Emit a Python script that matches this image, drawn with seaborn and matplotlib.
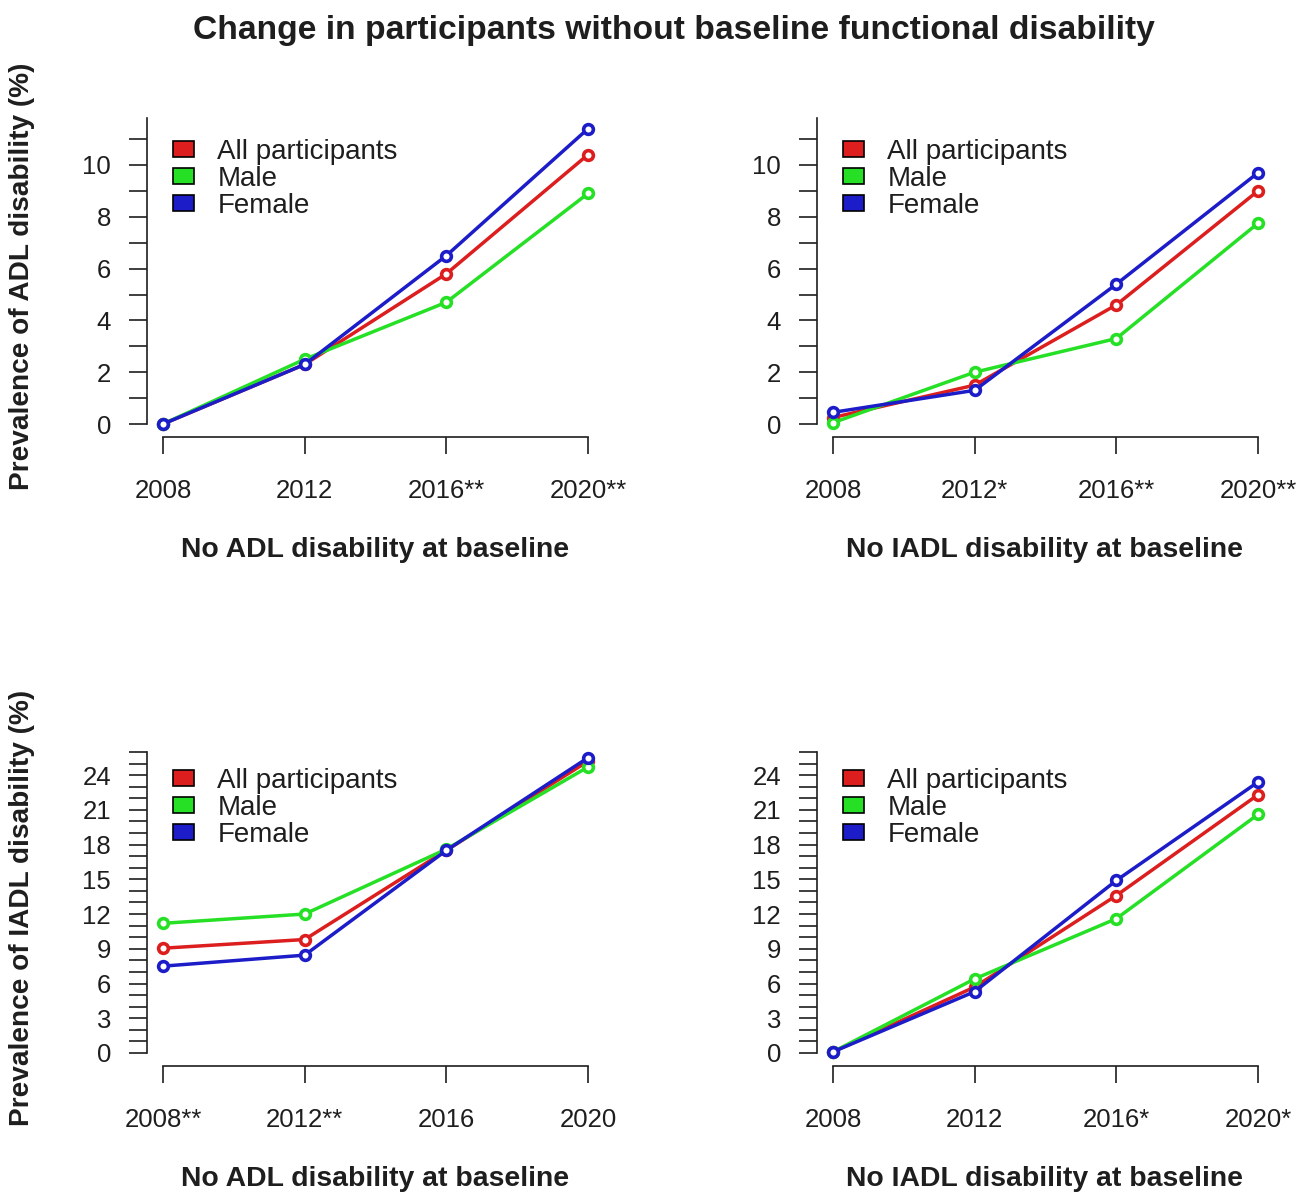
import matplotlib
matplotlib.use("Agg")
import matplotlib.pyplot as plt
from matplotlib.patches import Patch
from matplotlib.ticker import FixedLocator, FixedFormatter
import pandas as pd
import seaborn as sns

# ---- data -------------------------------------------------------------
groups = ["All participants", "Male", "Female"]
colors = ["#dc1e1e", "#26e026", "#1c1cc8"]
waves = [0, 1, 2, 3]

# ADL disability, no ADL disability at baseline
adl_noadl_all = [0.0, 2.3, 5.8, 10.4]
adl_noadl_male = [0.0, 2.5, 4.7, 8.9]
adl_noadl_female = [0.0, 2.3, 6.5, 11.4]
adl_noadl_ticks = ["2008", "2012", "2016**", "2020**"]

# ADL disability, no IADL disability at baseline
adl_noiadl_all = [0.25, 1.5, 4.6, 9.0]
adl_noiadl_male = [0.05, 2.0, 3.3, 7.75]
adl_noiadl_female = [0.45, 1.3, 5.4, 9.7]
adl_noiadl_ticks = ["2008", "2012*", "2016**", "2020**"]

# IADL disability, no ADL disability at baseline
iadl_noadl_all = [9.05, 9.8, 17.5, 25.2]
iadl_noadl_male = [11.2, 12.0, 17.6, 24.7]
iadl_noadl_female = [7.5, 8.45, 17.5, 25.5]
iadl_noadl_ticks = ["2008**", "2012**", "2016", "2020"]

# IADL disability, no IADL disability at baseline
iadl_noiadl_all = [0.1, 5.7, 13.6, 22.3]
iadl_noiadl_male = [0.1, 6.4, 11.6, 20.6]
iadl_noiadl_female = [0.1, 5.3, 14.9, 23.4]
iadl_noiadl_ticks = ["2008", "2012", "2016*", "2020*"]

title = "Change in participants without baseline functional disability"
xlabel_adl = "No ADL disability at baseline"
xlabel_iadl = "No IADL disability at baseline"
ylabel_adl = "Prevalence of ADL disability (%)"
ylabel_iadl = "Prevalence of IADL disability (%)"

# ---- style ------------------------------------------------------------
sns.set_style("white")
plt.rcParams["font.family"] = ["Liberation Sans", "DejaVu Sans"]
TXT = "#1e1e1e"

W, H = 1299, 1193
fig = plt.figure(figsize=(W / 100, H / 100), dpi=100)
fig.patch.set_facecolor("white")


def long_frame(all_v, male_v, female_v):
    rows = []
    for g, vals in zip(groups, [all_v, male_v, female_v]):
        for w, v in zip(waves, vals):
            rows.append({"wave": w, "value": v, "group": g})
    return pd.DataFrame(rows)


def panel(spine_x, axis_y, series, ticklabels, xlabel, ylabel,
          ppu, top_val, tick_max, label_step):
    # geometry in pixels
    x0, x3 = spine_x + 16, spine_x + 441
    y0 = axis_y - 13
    right = spine_x + 470
    top_px = y0 - top_val * ppu - 2
    ax = fig.add_axes([spine_x / W, 1 - axis_y / H,
                       (right - spine_x) / W, (axis_y - top_px) / H])
    ppx = (x3 - x0) / 3
    ax.set_xlim(-(x0 - spine_x) / ppx, 3 + (right - x3) / ppx)
    ax.set_ylim(-(axis_y - y0) / ppu, (y0 - top_px) / ppu)

    df = long_frame(*series)
    sns.lineplot(data=df, x="wave", y="value", hue="group",
                 hue_order=groups, palette=dict(zip(groups, colors)),
                 marker="o", markersize=7, markeredgewidth=2.6,
                 markerfacecolor="white", linewidth=2.5,
                 legend=False, ax=ax, clip_on=False)
    for line in ax.lines:
        line.set_markeredgecolor(line.get_color())

    for side in ["top", "right"]:
        ax.spines[side].set_visible(False)
    for side in ["left", "bottom"]:
        ax.spines[side].set_color(TXT)
        ax.spines[side].set_linewidth(1.2)
    ax.spines["left"].set_bounds(0, top_val)
    ax.spines["bottom"].set_bounds(0, 3)

    ax.xaxis.set_major_locator(FixedLocator(waves))
    ax.xaxis.set_major_formatter(FixedFormatter(ticklabels))
    yt = list(range(0, tick_max + 1))
    ax.yaxis.set_major_locator(FixedLocator(yt))
    ax.yaxis.set_major_formatter(FixedFormatter(
        [str(v) if v % label_step == 0 else "" for v in yt]))
    ax.tick_params(axis="x", direction="out", length=12, width=1.2,
                   color=TXT, labelsize=18.5, labelcolor=TXT, pad=18,
                   bottom=True)
    ax.tick_params(axis="y", direction="out", length=13, width=1.2,
                   color=TXT, labelsize=18.5, labelcolor=TXT, pad=13,
                   left=True)
    ax.grid(False)

    ax.set_xlabel(xlabel, fontsize=20.4, fontweight="bold", color=TXT)
    ax.xaxis.set_label_coords((375 - 147) / (right - spine_x),
                              -113 / (axis_y - top_px))
    ax.xaxis.label.set_verticalalignment("center")
    if ylabel:
        ax.set_ylabel(ylabel, fontsize=20.2, fontweight="bold", color=TXT)
        ax.yaxis.set_label_coords(-(spine_x - 22) / (right - spine_x), 0.5)
        ax.yaxis.label.set_verticalalignment("center")
    else:
        ax.set_ylabel("")

    handles = [Patch(facecolor=c, edgecolor="black", linewidth=1.2) for c in colors]
    ax.legend(handles, groups, loc="upper left",
              bbox_to_anchor=((spine_x + 26) / W, 1 - (axis_y - 298) / H),
              bbox_transform=fig.transFigure, frameon=False,
              fontsize=20, labelspacing=0.03, handlelength=0.75,
              handleheight=0.5, handletextpad=0.85, borderpad=0,
              borderaxespad=0, labelcolor=TXT)
    return ax


panel(147, 437, (adl_noadl_all, adl_noadl_male, adl_noadl_female),
      adl_noadl_ticks, xlabel_adl, ylabel_adl, 25.9, 11.8, 11, 2)
panel(817, 437, (adl_noiadl_all, adl_noiadl_male, adl_noiadl_female),
      adl_noiadl_ticks, xlabel_iadl, None, 25.9, 11.8, 11, 2)
panel(147, 1066, (iadl_noadl_all, iadl_noadl_male, iadl_noadl_female),
      iadl_noadl_ticks, xlabel_adl, ylabel_iadl, 11.58, 26.0, 26, 3)
panel(817, 1066, (iadl_noiadl_all, iadl_noiadl_male, iadl_noiadl_female),
      iadl_noiadl_ticks, xlabel_iadl, None, 11.58, 26.0, 26, 3)

fig.text(674 / W, 1 - 30 / H, title, ha="center", va="center",
         fontsize=24.2, fontweight="bold", color=TXT)

fig.savefig("out.png", dpi=100, facecolor="white")
